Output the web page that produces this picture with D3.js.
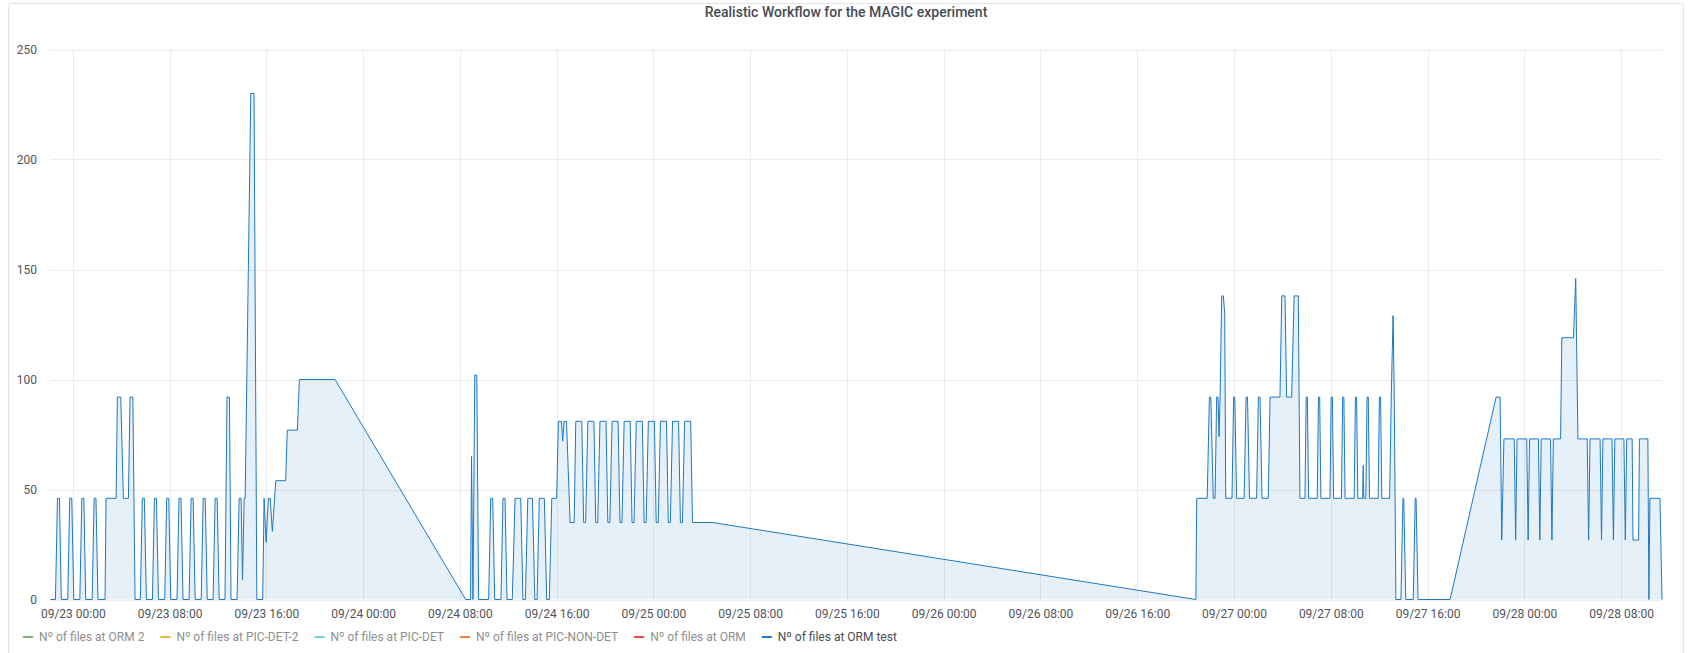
<!DOCTYPE html>
<html><head><meta charset="utf-8">
<script src="https://cdn.jsdelivr.net/npm/d3@7"></script>
<style>
html,body{margin:0;padding:0;background:#fff;}
svg text{font-family:Roboto,"Noto Sans",sans-serif;}
</style></head>
<body><svg id="c" width="1692" height="653"></svg>
<script>
// ---- data ----
const title = "Realistic Workflow for the MAGIC experiment";
const seriesNames = ["Nº of files at ORM 2","Nº of files at PIC-DET-2","Nº of files at PIC-DET","Nº of files at PIC-NON-DET","Nº of files at ORM","Nº of files at ORM test"];
const seriesColors = ["#7EB26D","#EAB839","#6ED0E0","#EF843C","#E24D42","#1F78C1"];
const hiddenSeries = [true,true,true,true,true,false];
const yTicks = [0,50,100,150,200,250];
const timeRange = ["22 22:07","28 11:23"];
const xTickStart = "23 00:00";
const xTickHours = 8;
// times: "DD HH:MM" in September
const ormTest = [
["22 22:10",0],
["22 22:34",0],["22 22:44",46],["22 22:54",46],["22 23:03",0],
["22 23:35",0],["22 23:45",46],["22 23:55",46],["23 00:05",0],
["23 00:35",0],["23 00:45",46],["23 00:55",46],["23 01:04",0],
["23 01:36",0],["23 01:46",46],["23 01:55",46],["23 02:05",0],
["23 02:40",0],["23 02:45",46],["23 03:35",46],["23 03:41",92],["23 03:58",92],["23 04:11",46],["23 04:36",46],["23 04:44",92],["23 04:58",92],["23 05:09",0],
["23 05:35",0],["23 05:45",46],["23 05:55",46],["23 06:05",0],
["23 06:35",0],["23 06:45",46],["23 06:55",46],["23 07:05",0],
["23 07:36",0],["23 07:46",46],["23 07:56",46],["23 08:06",0],
["23 08:37",0],["23 08:47",46],["23 08:57",46],["23 09:07",0],
["23 09:37",0],["23 09:47",46],["23 09:57",46],["23 10:07",0],
["23 10:37",0],["23 10:47",46],["23 10:57",46],["23 11:07",0],
["23 11:36",0],["23 11:46",46],["23 11:56",46],["23 12:06",0],
["23 12:35",0],["23 12:45",92],["23 12:57",92],["23 13:05",0],
["23 13:35",0],["23 13:45",46],["23 13:55",46],["23 14:02",9],["23 14:10",46],["23 14:15",46],["23 14:43",230],["23 14:59",230],["23 15:13",0],
["23 15:42",0],["23 15:49",46],["23 15:59",26],["23 16:10",46],["23 16:19",46],["23 16:30",31],["23 16:47",54],["23 17:36",54],["23 17:44",77],["23 18:34",77],["23 18:44",100],["23 21:41",100],
["24 08:29",0],
["24 08:53",0],["24 08:58",65],["24 09:05",0],["24 09:14",102],["24 09:24",102],["24 09:33",0],
["24 10:23",0],["24 10:33",46],["24 10:43",46],["24 10:53",0],
["24 11:24",0],["24 11:34",46],["24 11:44",46],["24 11:54",0],
["24 12:20",0],["24 12:34",46],["24 13:02",46],["24 13:13",0],
["24 13:25",0],["24 13:37",46],["24 14:00",46],["24 14:12",0],
["24 14:23",0],["24 14:34",46],["24 14:59",46],["24 15:11",0],
["24 15:24",0],["24 15:36",46],["24 16:00",46],["24 16:09",81],["24 16:24",81],["24 16:30",72],["24 16:37",81],["24 16:49",81],["24 17:07",35],["24 17:27",35],
["24 17:35",81],["24 18:05",81],["24 18:14",35],["24 18:24",35],
["24 18:35",81],["24 19:05",81],["24 19:14",35],["24 19:24",35],
["24 19:35",81],["24 20:05",81],["24 20:14",35],["24 20:24",35],
["24 20:35",81],["24 21:05",81],["24 21:14",35],["24 21:24",35],
["24 21:35",81],["24 22:05",81],["24 22:14",35],["24 22:24",35],
["24 22:35",81],["24 23:05",81],["24 23:14",35],["24 23:24",35],
["24 23:35",81],["25 00:05",81],["25 00:14",35],["25 00:24",35],
["25 00:35",81],["25 01:05",81],["25 01:14",35],["25 01:24",35],
["25 01:35",81],["25 02:05",81],["25 02:14",35],["25 02:24",35],
["25 02:35",81],["25 03:05",81],["25 03:14",35],["25 04:54",35],
["26 20:51",0],
["26 20:55",46],["26 21:47",46],["26 21:58",92],["26 22:05",92],["26 22:17",46],["26 22:26",46],["26 22:34",92],["26 22:41",92],["26 22:46",74],["26 22:51",92],["26 22:59",138],["26 23:07",138],["26 23:14",130],["26 23:19",46],
["26 23:50",46],["26 23:58",92],["27 00:04",92],["27 00:13",46],
["27 00:50",46],["27 01:00",92],["27 01:07",92],["27 01:17",46],
["27 01:52",46],["27 02:01",92],["27 02:09",92],["27 02:19",46],
["27 02:50",46],["27 02:59",92],["27 03:48",92],["27 03:57",138],["27 04:13",138],["27 04:21",92],["27 04:46",92],["27 04:58",138],["27 05:19",138],["27 05:27",46],
["27 05:52",46],["27 05:58",92],["27 06:04",92],["27 06:10",46],
["27 06:53",46],["27 06:59",92],["27 07:05",92],["27 07:11",46],
["27 07:56",46],["27 08:02",92],["27 08:08",92],["27 08:14",46],
["27 08:53",46],["27 08:59",92],["27 09:05",92],["27 09:11",46],
["27 09:56",46],["27 10:02",92],["27 10:08",92],["27 10:14",46],
["27 10:38",46],["27 10:41",61],["27 10:44",46],
["27 10:54",46],["27 11:00",92],["27 11:06",92],["27 11:12",46],
["27 11:55",46],["27 12:01",92],["27 12:07",92],["27 12:13",46],
["27 12:52",46],["27 13:00",92],["27 13:09",129],["27 13:15",92],["27 13:23",0],
["27 13:48",0],["27 13:58",46],["27 14:02",46],["27 14:12",0],
["27 14:49",0],["27 14:59",46],["27 15:03",46],["27 15:13",0],
["27 17:52",0],["27 21:40",92],["27 22:00",92],["27 22:08",27],["27 22:19",73],
["27 23:10",73],["27 23:17",27],["27 23:24",73],
["28 00:12",73],["28 00:19",27],["28 00:26",73],
["28 01:10",73],["28 01:17",27],["28 01:24",73],
["28 02:10",73],["28 02:17",27],["28 02:24",73],
["28 03:00",73],["28 03:06",119],["28 04:04",119],["28 04:15",146],["28 04:26",73],
["28 05:12",73],["28 05:19",27],["28 05:26",73],
["28 06:16",73],["28 06:23",27],["28 06:30",73],
["28 07:15",73],["28 07:22",27],["28 07:29",73],
["28 08:14",73],["28 08:21",27],["28 08:28",73],
["28 08:55",73],["28 08:59",27],["28 09:27",27],["28 09:31",73],["28 10:13",73],["28 10:18",0],["28 10:23",46],["28 11:13",46],["28 11:23",0]
];

// ---- chart ----
const parse = s => d3.timeParse("%Y-%m-%d %H:%M")("2021-09-" + s);
const svg = d3.select("#c");
const W = 1692, H = 653;
const plot = {left: 50, right: 1662, top: 49.5, bottom: 599.5};

svg.append("rect").attr("x",8.5).attr("y",3.5).attr("width",W-17).attr("height",H+10)
  .attr("rx",3).attr("fill","#fff").attr("stroke","#e3e4e6");

svg.append("text").attr("x",W/2).attr("y",17).attr("text-anchor","middle")
  .attr("font-size",14).attr("font-weight",500).attr("fill","#464c54").text(title);

const x = d3.scaleTime().domain(timeRange.map(parse)).range([plot.left, plot.right]);
const y = d3.scaleLinear().domain([0,250]).range([plot.bottom, plot.top]);

// x ticks every 8h
const xTicks = d3.timeHour.every(xTickHours).range(parse(xTickStart), x.domain()[1]);
const fmt = d3.timeFormat("%m/%d %H:%M");

const grid = svg.append("g");
grid.selectAll("line.h").data(yTicks).join("line")
  .attr("x1",plot.left).attr("x2",plot.right)
  .attr("y1",d=>Math.round(y(d))+0.5).attr("y2",d=>Math.round(y(d))+0.5)
  .attr("stroke","#ececec").attr("stroke-width",1);
grid.selectAll("line.v").data(xTicks).join("line")
  .attr("x1",d=>Math.round(x(d))+0.5).attr("x2",d=>Math.round(x(d))+0.5)
  .attr("y1",plot.top).attr("y2",plot.bottom)
  .attr("stroke","#ececec").attr("stroke-width",1);

// axes
const yAxis = d3.axisLeft(y).tickValues(yTicks).tickSize(0).tickPadding(0);
const gy = svg.append("g").attr("transform",`translate(${37},0)`).call(yAxis);
gy.select(".domain").remove();
gy.selectAll("text").attr("font-size",12).attr("fill","#52545c").attr("font-family","Roboto");

const xAxis = d3.axisBottom(x).tickValues(xTicks).tickFormat(fmt).tickSize(0).tickPadding(0);
const gx = svg.append("g").attr("transform",`translate(0,${609})`).call(xAxis);
gx.select(".domain").remove();
gx.selectAll("text").attr("font-size",12).attr("fill","#52545c").attr("font-family","Roboto");

// series
const pts = ormTest.map(d => [parse(d[0]), d[1]]);
const area = d3.area().x(d=>x(d[0])).y0(y(0)).y1(d=>y(d[1]));
const line = d3.line().x(d=>x(d[0])).y(d=>y(d[1]));
svg.append("path").datum(pts).attr("d",area).attr("fill",seriesColors[5]).attr("fill-opacity",0.11);
svg.append("path").datum(pts).attr("d",line).attr("fill","none").attr("stroke",seriesColors[5]).attr("stroke-width",1).attr("stroke-linejoin","round");

// legend
const lg = svg.append("g").attr("transform","translate(0,641)");
let lx = 23;
seriesNames.forEach((n,i)=>{
  lg.append("rect").attr("x",lx).attr("y",-5).attr("width",10).attr("height",2).attr("fill",seriesColors[i]);
  const t = lg.append("text").attr("x",lx+16).attr("y",0).attr("font-size",12)
    .attr("fill", hiddenSeries[i] ? "#8e8e8e" : "#464c54").text(n);
  lx += 16 + t.node().getComputedTextLength() + 16;
});
</script></body></html>
